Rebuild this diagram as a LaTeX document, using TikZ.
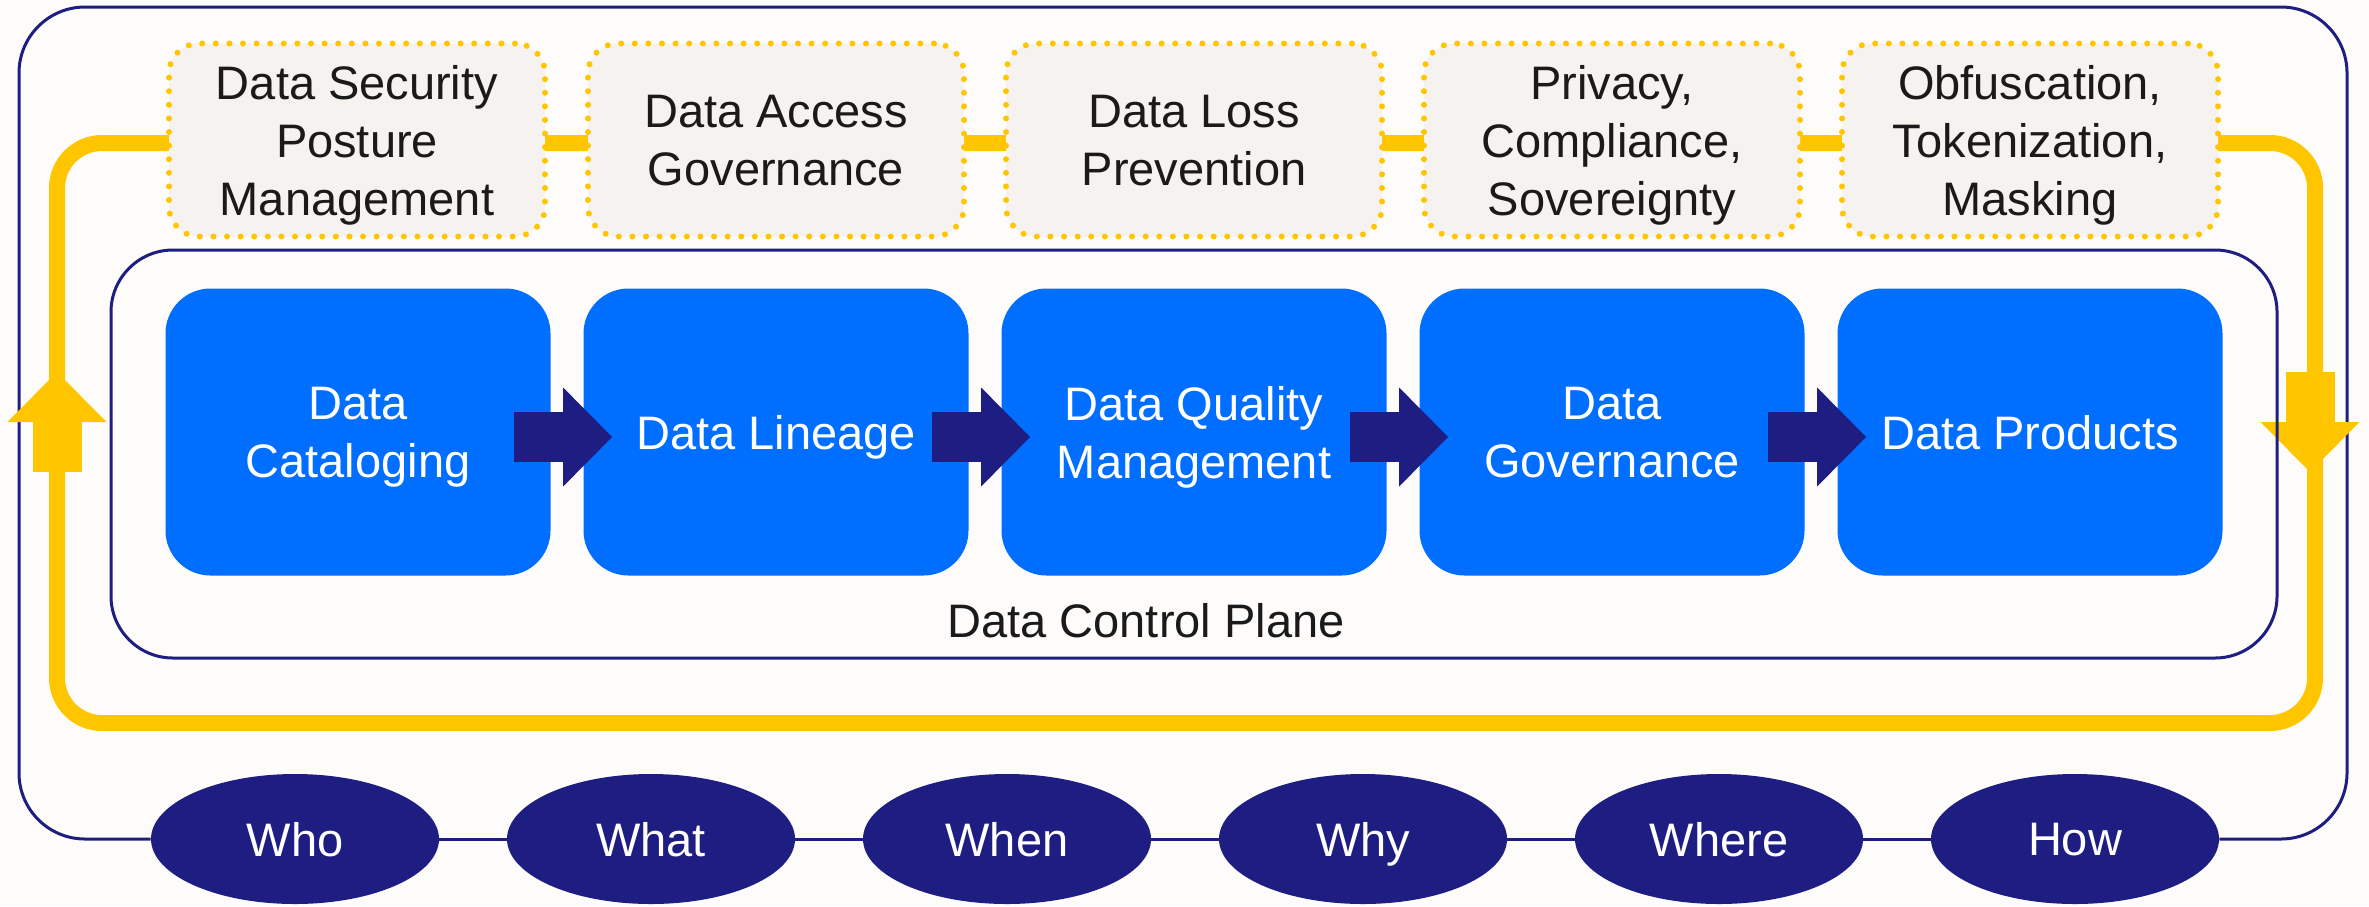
\documentclass[tikz,border=0pt]{standalone}
\usepackage{fontspec}
\setmainfont{Liberation Sans}
\usetikzlibrary{shapes.geometric,arrows.meta,calc}
\definecolor{bgc}{RGB}{254,252,250}
\definecolor{navy}{RGB}{30,30,130}
\definecolor{procblue}{RGB}{0,110,255}
\definecolor{gold}{RGB}{255,198,0}
\definecolor{dotfill}{RGB}{246,242,239}
\definecolor{ink}{RGB}{26,26,26}
\begin{document}
\begin{tikzpicture}[x=0.5pt,y=-0.5pt,
  txt/.style={font=\fontsize{23.5}{29}\selectfont, align=center,
    text depth=0pt},
  dotbox/.style={txt, text=ink, draw=gold, fill=dotfill, line width=3pt,
    dash pattern=on 0pt off 6.8pt, line cap=round, rounded corners=15pt,
    minimum width=188pt, minimum height=96.5pt, inner sep=0pt},
  procbox/.style={txt, text=white, fill=procblue, rounded corners=22.5pt,
    minimum width=192.5pt, minimum height=143.5pt, inner sep=0pt},
  qnode/.style={txt, text=white, fill=navy, ellipse,
    minimum width=144pt, minimum height=65pt, inner sep=0pt},
  frame/.style={draw=navy, line width=1.5pt},
  flow/.style={draw=navy, line width=25pt,
    -{Triangle[width=49.5pt,length=24.5pt,line width=0pt]}},
  loopline/.style={draw=gold, line width=8pt, rounded corners=22.5pt},
  looparrow/.style={draw=gold, line width=24.5pt,
    -{Triangle[width=49.5pt,length=25pt,line width=0pt]}},
]
\useasboundingbox (0,0) rectangle (2369,906);
\fill[bgc] (0,0) rectangle (2369,906);

% bottom question nodes
\node[qnode] (who)   at (295,839)  {Who};
\node[qnode] (what)  at (651,839)  {What};
\node[qnode] (when)  at (1007,839) {When};
\node[qnode] (why)   at (1363,839) {Why};
\node[qnode] (where) at (1719,839) {Where};
\node[qnode] (how)   at (2075,839) {How};

% outer frame through the question nodes
\draw[frame, rounded corners=33pt] (who.west) -| (19,7) -| (2347,839) -- (how.east);
\draw[frame] (who) -- (what);
\draw[frame] (what) -- (when);
\draw[frame] (when) -- (why);
\draw[frame] (why) -- (where);
\draw[frame] (where) -- (how);

% yellow loop
\draw[loopline] (57,143) rectangle (2315,723);
\draw[looparrow] (57,472) -- (57,372);
\draw[looparrow] (2310,372) -- (2310,472);

% control plane
\draw[frame, rounded corners=31pt] (111,250) rectangle (2277,658);
\node[txt, text=ink] (cpl) at (1146,620) {Data Control Plane};

% top dotted boxes
\node[dotbox] (s1) at (357,140)  {Data Security\\Posture\\Management};
\node[dotbox] (s2) at (776,140)  {Data Access\\Governance};
\node[dotbox] (s3) at (1194,140) {Data Loss\\Prevention};
\node[dotbox] (s4) at (1612,140) {Privacy,\\Compliance,\\Sovereignty};
\node[dotbox] (s5) at (2030,140) {Obfuscation,\\Tokenization,\\Masking};

% process boxes
\node[procbox] (b1) at (358,432)  {Data\\Cataloging};
\node[procbox] (b2) at (776,432)  {Data Lineage};
\node[procbox] (b3) at (1194,432) {Data Quality\\Management};
\node[procbox] (b4) at (1612,432) {Data\\Governance};
\node[procbox] (b5) at (2030,432) {Data Products};

\draw[flow] ($(b1.east)+(-37,5)$) -- ($(b2.west)+(29,5)$);
\draw[flow] ($(b2.east)+(-37,5)$) -- ($(b3.west)+(29,5)$);
\draw[flow] ($(b3.east)+(-37,5)$) -- ($(b4.west)+(29,5)$);
\draw[flow] ($(b4.east)+(-37,5)$) -- ($(b5.west)+(29,5)$);
\end{tikzpicture}
\end{document}
